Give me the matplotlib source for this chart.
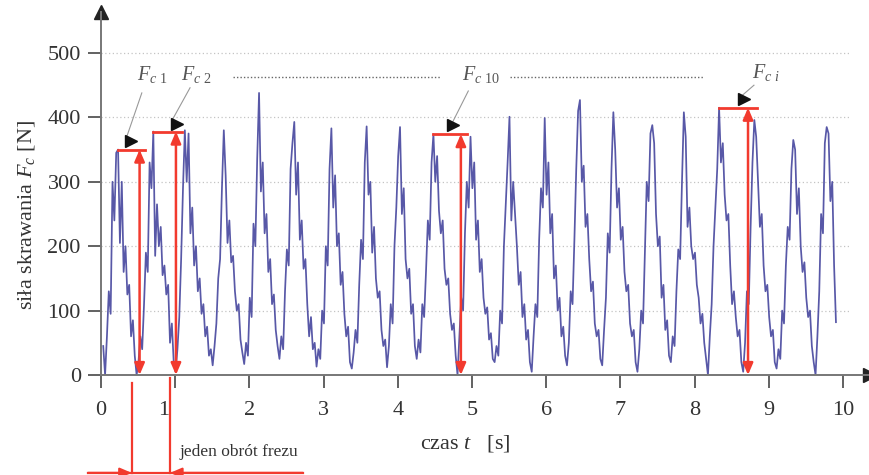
import numpy as np
import matplotlib
matplotlib.use("Agg")
import matplotlib.pyplot as plt
from matplotlib import transforms

plt.rcParams['font.family'] = ['Liberation Serif', 'DejaVu Serif']
plt.rcParams['mathtext.fontset'] = 'custom'
plt.rcParams['mathtext.rm'] = 'Liberation Serif'
plt.rcParams['mathtext.it'] = 'Liberation Serif:italic'

# sampling of the cutting force record
t_start = 0.03
dt = 0.025

# cutting force Fc [N], one block per cutter revolution
force = [
    45, 0, 60, 130, 95, 300, 240, 345, 350,
    205, 300, 160, 200, 125, 140, 60, 85, 30, 0,
    20, 60, 40, 110, 190, 160, 330, 290, 378,
    185, 265, 200, 230, 155, 170, 125, 140, 50, 80, 20, 5,
    40, 90, 180, 290, 380,
    300, 375, 220, 260, 170, 200, 130, 150, 95, 110, 60, 75, 30, 40, 15,
    45, 80, 150, 180, 290, 380,
    310, 205, 240, 175, 185, 130, 100, 110, 55, 35, 17,
    50, 30, 120, 90, 235, 200, 335, 438,
    285, 330, 220, 250, 160, 180, 110, 125, 70, 45, 25,
    60, 40, 130, 195, 170, 320, 360, 393,
    280, 330, 210, 240, 165, 180, 110, 60, 90, 40, 50, 13,
    40, 25, 100, 80, 200, 170, 320, 383,
    260, 310, 200, 220, 140, 160, 95, 60, 75, 20, 10,
    35, 70, 50, 140, 210, 180, 330, 386,
    280, 300, 190, 230, 150, 120, 130, 70, 45, 55, 12,
    45, 110, 80, 200, 260, 340, 385,
    250, 290, 180, 150, 165, 95, 110, 45, 25,
    55, 35, 110, 90, 160, 240, 210, 330, 374,
    300, 340, 255, 220, 240, 165, 140, 150, 95, 70, 80, 30, 0,
    60, 120, 100, 220, 300, 260, 370,
    290, 330, 210, 240, 160, 180, 120, 95, 105, 55, 65, 25, 20,
    45, 30, 100, 80, 200, 265, 330, 401,
    240, 300, 250, 200, 140, 160, 90, 110, 55, 70, 20, 5,
    60, 110, 90, 210, 290, 260, 399,
    280, 330, 220, 250, 150, 170, 100, 120, 60, 75, 30, 15,
    50, 130, 110, 210, 320, 410, 427,
    300, 325, 230, 250, 180, 130, 145, 80, 60, 70, 25, 15,
    70, 120, 220, 190, 320, 408,
    350, 260, 290, 210, 230, 160, 130, 140, 80, 60, 70, 20, 5,
    40, 100, 80, 190, 300, 270, 375, 388,
    360, 250, 200, 215, 120, 140, 70, 85, 30, 20,
    60, 45, 130, 195, 180, 300, 408,
    370, 230, 260, 200, 180, 190, 140, 120, 80, 95, 50, 25, 0,
    60, 110, 200, 260, 320, 415,
    330, 360, 280, 240, 250, 170, 110, 130, 90, 60, 70, 20, 5,
    50, 130, 110, 230, 330, 396,
    370, 300, 230, 250, 170, 130, 140, 90, 60, 70, 20, 10,
    40, 25, 100, 80, 170, 230, 210, 320, 365,
    350, 250, 290, 200, 160, 175, 120, 90, 100, 45, 20, 0,
    60, 130, 250, 220, 360, 385,
    375, 270, 300, 170, 82,
]

# marked peaks: sample index, label, where the double arrow stands
peak_idx = [8, 27, 178, 332]
peak_names = ['$F_{c\\ \\mathit{1}}$', '$F_{c\\ \\mathit{2}}$',
              '$F_{c\\ \\mathit{10}}$', '$F_{c\\ i}$']
arrow_t = [0.52, 1.01, 4.85, 8.72]
line_end_t = [0.59, 1.09, 4.93, 8.84]
name_pos = [(0.69, 466), (1.28, 466), (5.12, 466), (8.96, 470)]
leader_from = [(0.55, 438), (1.20, 446), (4.95, 441), (8.80, 450)]
leader_to = [(0.35, 371), (0.96, 396), (4.74, 393), (8.62, 432)]
head_pos = [(0.41, 363), (1.02, 390), (4.75, 388), (8.67, 429)]

yticks = [0, 100, 200, 300, 400, 500]
xticks = list(range(11))

force = np.array(force, dtype=float)
t = t_start + dt * np.arange(len(force))

fig = plt.figure(figsize=(8.7, 4.75), dpi=100)
ax = fig.add_axes([101 / 870, 100 / 475, 769 / 870, 363 / 475])
x_max = 769 / 74.2
ax.set_xlim(0, x_max)
ax.set_ylim(0, 363 / 0.644)

axis_col = '#777777'
red = '#f23a2e'

# dotted horizontal guides
for yv in yticks[1:]:
    ax.plot([0, 10.1], [yv, yv], ls=(0, (1, 2)), color='#c4c4c4', lw=0.9, zorder=0)

ax.plot(t, force, color='#3b3b98', lw=1.25, alpha=0.85, zorder=2)

for s in ['top', 'right']:
    ax.spines[s].set_visible(False)
for s in ['left', 'bottom']:
    ax.spines[s].set_color(axis_col)
    ax.spines[s].set_linewidth(1.4)
ax.plot(0, 1, '^', color='#222222', ms=10, transform=ax.transAxes, clip_on=False)
ax.plot(1, 0, '>', color='#222222', ms=10, transform=ax.transAxes, clip_on=False)

ax.set_yticks(yticks)
ax.set_xticks(xticks)
ax.tick_params(axis='y', direction='out', length=9.5, width=1.3, color='#555555',
               labelsize=16, labelcolor='#333333', pad=5)
ax.tick_params(axis='x', direction='out', length=9.5, width=1.3, color='#555555',
               labelsize=16, labelcolor='#333333', pad=9)
lab1 = ax.xaxis.get_major_ticks()[1].label1
lab1.set_transform(lab1.get_transform() + transforms.ScaledTranslation(-0.12, 0, fig.dpi_scale_trans))

fig.text(27 / 870, 1 - 215 / 475, 'siła skrawania $F_c$ [N]', rotation=90,
         ha='center', va='center', fontsize=16, color='#333333')
fig.text(465 / 870, 1 - 443 / 475, 'czas $t$   [s]', ha='center', va='center',
         fontsize=16, color='#333333')

# peak markers
for i in range(len(peak_idx)):
    tp = t[peak_idx[i]]
    fp = force[peak_idx[i]]
    ax.plot([tp, line_end_t[i]], [fp, fp], color=red, lw=2, zorder=3)
    ax.annotate('', xy=(arrow_t[i], 0), xytext=(arrow_t[i], fp),
                arrowprops=dict(arrowstyle='<|-|>,head_length=0.7,head_width=0.3',
                                color=red, lw=1.8, shrinkA=0, shrinkB=0), zorder=3)
    ax.text(name_pos[i][0], name_pos[i][1], peak_names[i], ha='center', va='center',
            fontsize=14.5, color='#555555')
    ax.plot([leader_from[i][0], leader_to[i][0]], [leader_from[i][1], leader_to[i][1]],
            color='#999999', lw=0.8)
    ax.plot(head_pos[i][0], head_pos[i][1], '>', color='#111111', ms=9, zorder=4)

# dotted continuation between the marked peaks
ax.plot([1.78, 4.58], [463, 463], ls=(0, (1, 1.5)), color='#666666', lw=1.0)
ax.plot([5.51, 8.11], [463, 463], ls=(0, (1, 1.5)), color='#666666', lw=1.0)

# one cutter revolution
rev_a, rev_b = 0.415, 0.93
dim_y = -152
ax.plot([rev_a, rev_a], [-12, dim_y], color=red, lw=1.6, clip_on=False)
ax.plot([rev_b, rev_b], [-5, dim_y], color=red, lw=1.6, clip_on=False)
ax.plot([-0.175, 2.72], [dim_y, dim_y], color=red, lw=1.6, clip_on=False)
for start, end in [(-0.175, rev_a), (2.72, rev_b)]:
    ax.annotate('', xy=(end, dim_y), xytext=(start, dim_y), annotation_clip=False,
                arrowprops=dict(arrowstyle='-|>,head_length=0.7,head_width=0.3',
                                color=red, lw=1.6, shrinkA=0, shrinkB=0))
ax.text(1.06, -120, 'jeden obrót frezu', ha='left', va='center', fontsize=12.5,
        color='#333333', clip_on=False)

fig.savefig('out.png', dpi=100)
